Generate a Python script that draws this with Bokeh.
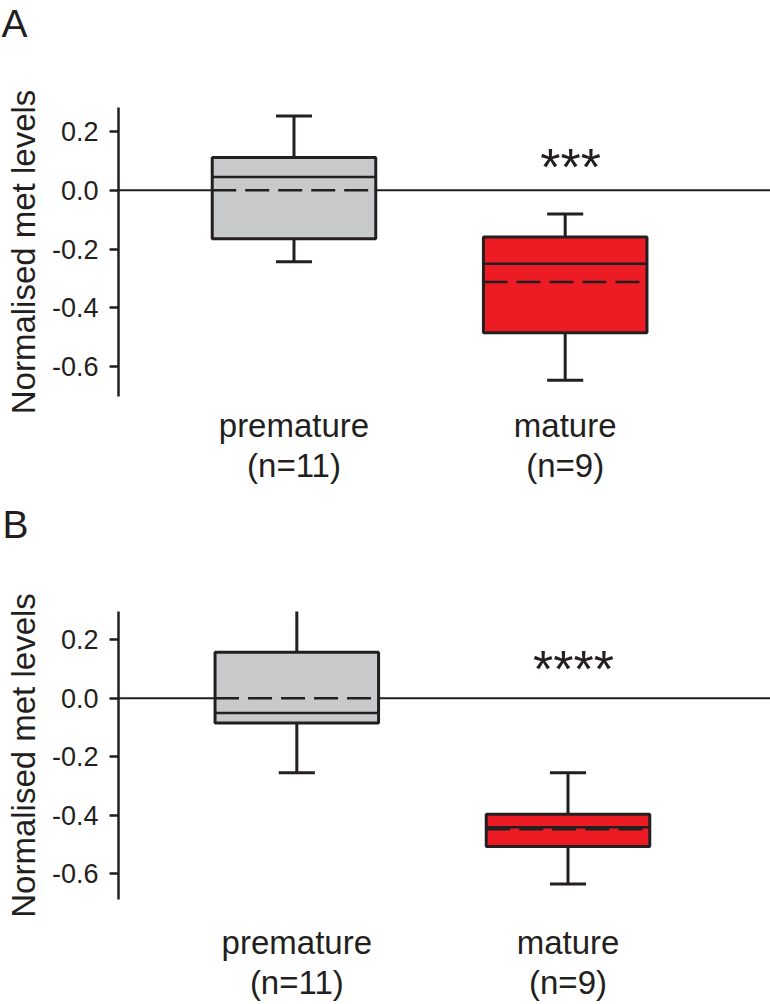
from bokeh.plotting import figure
from bokeh.models import Range1d, FixedTicker, Span, ColumnDataSource, Title
from bokeh.layouts import column
from bokeh.embed import file_html
from bokeh.resources import INLINE
from bokeh.core.properties import value

# ---------------- data ----------------
categories = ["premature", "mature"]
n_labels = ["(n=11)", "(n=9)"]
positions = [1, 2]
fills = ["#c8c9cb", "#ed1c24"]

# Panel A
a_low = [-0.243, -0.647]
a_q1 = [-0.165, -0.485]
a_median = [0.045, -0.250]
a_mean = [0.0, -0.312]
a_q3 = [0.112, -0.159]
a_high = [0.253, -0.081]

# Panel B
b_low = [-0.255, -0.635]
b_q1 = [-0.085, -0.507]
b_median = [-0.051, -0.441]
b_mean = [0.0, -0.448]
b_q3 = [0.157, -0.397]
b_high = [0.313, -0.255]

y_ticks = [0.2, 0.0, -0.2, -0.4, -0.6]
y_tick_labels = ["0.2", "0.0", "-0.2", "-0.4", "-0.6"]
y_title = "Normalised met levels"
panel_letters = ["A", "B"]
sig_labels = ["***", "****"]
sig_y = [0.078, 0.099]
sig_x = 2.02

# ---------------- style ----------------
FONT = "Liberation Sans"
INK = "#231f20"
W = 770
BOX_W = 0.603
CAP_W = 0.133
BORDER_LEFT = 118


def make_panel(letter, low, q1, med, mean, q3, high, sig, sy,
               height, border_top, frame_h, y_start, y_end, x_start, x_end,
               x_standoff, spacer_standoff, letter_offset):
    border_bottom = height - border_top - frame_h
    p = figure(width=W, height=height, output_backend="svg", toolbar_location=None,
               x_range=Range1d(x_start, x_end), y_range=Range1d(y_start, y_end),
               min_border_top=border_top, min_border_left=BORDER_LEFT,
               min_border_right=0, min_border_bottom=border_bottom)
    p.outline_line_color = None
    p.grid.grid_line_color = None
    p.background_fill_color = "white"

    # invisible spacer between frame and panel letter
    p.add_layout(Title(text=" ", text_font=FONT, text_font_size="10px",
                       standoff=spacer_standoff), "above")
    # panel letter, top-left corner
    p.add_layout(Title(text=letter, text_font=FONT, text_font_size="39px",
                       text_font_style="normal", text_color=INK, align="left",
                       vertical_align="top", offset=letter_offset,
                       standoff=2), "above")

    # zero line (behind boxes)
    p.add_layout(Span(location=0, dimension="width", line_color=INK,
                      line_width=2, level="underlay"))

    src = ColumnDataSource(dict(
        x=positions, low=low, q1=q1, med=med, mean=mean, q3=q3, high=high,
        fill=fills,
        left=[x - BOX_W / 2 for x in positions],
        right=[x + BOX_W / 2 for x in positions],
        cl=[x - CAP_W / 2 for x in positions],
        cr=[x + CAP_W / 2 for x in positions],
    ))
    p.segment(x0="x", y0="q3", x1="x", y1="high", source=src, line_color=INK, line_width=3)
    p.segment(x0="x", y0="q1", x1="x", y1="low", source=src, line_color=INK, line_width=3)
    p.segment(x0="cl", y0="high", x1="cr", y1="high", source=src, line_color=INK, line_width=3)
    p.segment(x0="cl", y0="low", x1="cr", y1="low", source=src, line_color=INK, line_width=3)
    p.quad(left="left", right="right", bottom="q1", top="q3", source=src,
           fill_color="fill", line_color=INK, line_width=3)
    p.segment(x0="left", y0="med", x1="right", y1="med", source=src,
              line_color=INK, line_width=2.5)
    p.segment(x0="left", y0="mean", x1="right", y1="mean", source=src,
              line_color=INK, line_width=2.5, line_dash="24 9")

    p.text(x=[sig_x], y=[sy], text=[sig], text_font=value(FONT),
           text_font_size="52px", text_align="center", text_baseline="alphabetic",
           text_color=INK)

    ya = p.yaxis[0]
    ya.ticker = FixedTicker(ticks=y_ticks)
    ya.major_label_overrides = {t: l for t, l in zip(y_ticks, y_tick_labels)}
    ya.axis_line_width = 2.5
    ya.axis_line_color = INK
    ya.major_tick_line_width = 2.5
    ya.major_tick_line_color = INK
    ya.major_tick_out = 9
    ya.major_tick_in = 0
    ya.minor_tick_line_color = None
    ya.major_label_text_font = FONT
    ya.major_label_text_font_size = "27px"
    ya.major_label_text_color = INK
    ya.major_label_standoff = 11
    ya.axis_label = y_title
    ya.axis_label_text_font = FONT
    ya.axis_label_text_font_size = "33px"
    ya.axis_label_text_font_style = "normal"
    ya.axis_label_text_color = INK
    ya.axis_label_standoff = 7

    xa = p.xaxis[0]
    xa.ticker = FixedTicker(ticks=positions)
    xa.major_label_overrides = {x: f"{c}\n{n}" for x, c, n in zip(positions, categories, n_labels)}
    xa.axis_line_color = None
    xa.major_tick_line_color = None
    xa.minor_tick_line_color = None
    xa.major_label_text_font = FONT
    xa.major_label_text_font_size = "33px"
    xa.major_label_text_color = INK
    xa.major_label_text_line_height = 1.1
    xa.major_label_standoff = x_standoff
    return p


pa = make_panel(panel_letters[0], a_low, a_q1, a_median, a_mean, a_q3, a_high,
                sig_labels[0], sig_y[0],
                height=500, border_top=107, frame_h=289,
                y_start=-0.702, y_end=0.282, x_start=0.3529, x_end=2.757,
                x_standoff=4, spacer_standoff=47, letter_offset=-117)
pb = make_panel(panel_letters[1], b_low, b_q1, b_median, b_mean, b_q3, b_high,
                sig_labels[1], sig_y[1],
                height=504, border_top=111, frame_h=288,
                y_start=-0.688, y_end=0.296, x_start=0.3425, x_end=2.7467,
                x_standoff=18, spacer_standoff=50, letter_offset=-116)

layout = column(pa, pb, spacing=0)
open("out.html", "w").write(file_html(layout, INLINE))
